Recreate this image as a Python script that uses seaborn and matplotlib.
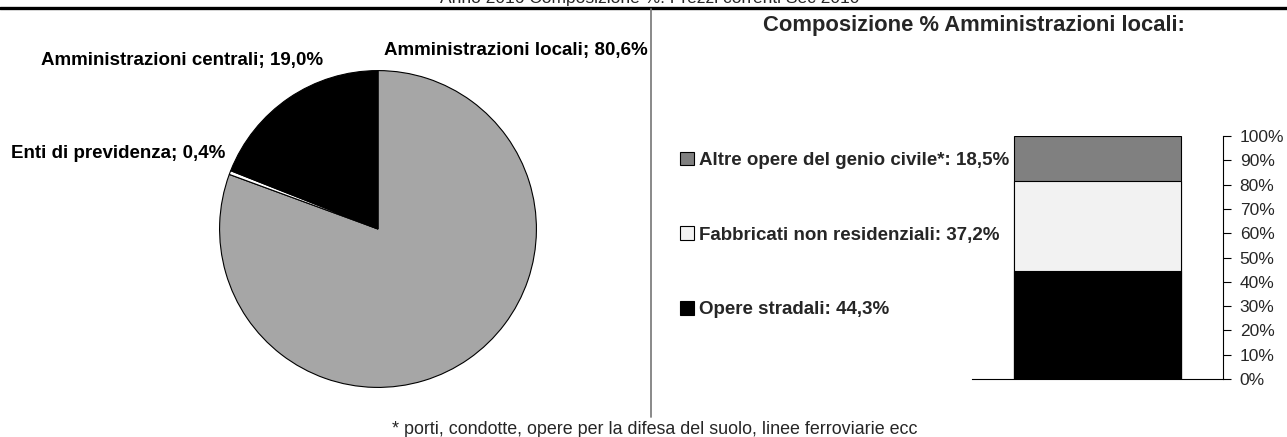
import numpy as np
import pandas as pd
import matplotlib
matplotlib.use("Agg")
import matplotlib.pyplot as plt
import seaborn as sns
from matplotlib.patches import Patch
from matplotlib.lines import Line2D

sns.set_style("white")
plt.rcParams['font.family'] = ['Liberation Sans Narrow', 'Liberation Sans', 'DejaVu Sans']

# --- data ---
pie_labels = ['Amministrazioni locali', 'Enti di previdenza', 'Amministrazioni centrali']
pie_values = [80.6, 0.4, 19.0]
pie_colors = ['#A6A6A6', '#FFFFFF', '#000000']

bar_labels = ['Opere stradali', 'Fabbricati non residenziali', 'Altre opere del genio civile*']
bar_values = [44.3, 37.2, 18.5]
bar_colors = ['#000000', '#F2F2F2', '#808080']

y_ticks = [0, 10, 20, 30, 40, 50, 60, 70, 80, 90, 100]
y_tick_labels = [f'{t}%' for t in y_ticks]

top_title = 'Anno 2016 Composizione %. Prezzi correnti Sec 2010'
right_title = 'Composizione % Amministrazioni locali:'
footnote = '* porti, condotte, opere per la difesa del suolo, linee ferroviarie ecc'


def pct(v):
    return f'{v:.1f}%'.replace('.', ',')


W, H = 1287, 437
fig = plt.figure(figsize=(W / 100, H / 100), dpi=100)
fig.patch.set_facecolor('white')


def fx(px):
    return px / W


def fy(py):
    return 1 - py / H


# --- pie ---
ax_pie = fig.add_axes([fx(218), fy(389), 320 / W, 320 / H])
ax_pie.pie(pie_values, colors=pie_colors, startangle=90, counterclock=False,
           wedgeprops=dict(edgecolor='black', linewidth=0.8))
ax_pie.set_aspect('equal')
ax_pie.set_xlim(-1.01, 1.01)
ax_pie.set_ylim(-1.01, 1.01)
ax_pie.axis('off')

lab_font = dict(fontsize=13.5, fontweight='bold', color='black')
fig.text(fx(384), fy(50), f'{pie_labels[0]}; {pct(pie_values[0])}', ha='left', va='center', **lab_font)
fig.text(fx(323), fy(61), f'{pie_labels[2]}; {pct(pie_values[2])}', ha='right', va='center', **lab_font)
fig.text(fx(225), fy(153), f'{pie_labels[1]}; {pct(pie_values[1])}', ha='right', va='center', **lab_font)

# --- stacked bar ---
ax_bar = fig.add_axes([fx(972), fy(379), 251 / W, 243 / H])
df = pd.DataFrame({'cat': [''] * len(bar_values), 'val': bar_values, 'label': bar_labels})
df['top'] = df['val'].cumsum()
for i in reversed(range(len(df))):
    sns.barplot(x=[df['cat'][i]], y=[df['top'][i]], color=bar_colors[i], width=0.666,
                edgecolor='black', linewidth=0.8, saturation=1, ax=ax_bar)
ax_bar.set_xlim(-0.5, 0.5)
ax_bar.set_ylim(0, 100)
ax_bar.set_xticks([])
ax_bar.set_xlabel('')
ax_bar.set_ylabel('')
ax_bar.yaxis.tick_right()
ax_bar.set_yticks(y_ticks)
ax_bar.set_yticklabels(y_tick_labels, fontsize=12.5)
ax_bar.tick_params(axis='y', direction='out', length=6, width=0.8, color='black', pad=6, right=True)
for s in ['left', 'top']:
    ax_bar.spines[s].set_visible(False)
for s in ['right', 'bottom']:
    ax_bar.spines[s].set_color('black')
    ax_bar.spines[s].set_linewidth(0.8)
ax_bar.patch.set_alpha(0)

handles = [Patch(facecolor=bar_colors[i], edgecolor='black', linewidth=0.8) for i in reversed(range(len(df)))]
labels = [f'{bar_labels[i]}: {pct(bar_values[i])}' for i in reversed(range(len(df)))]
leg = fig.legend(handles, labels, loc='center left', bbox_to_anchor=(fx(671), fy(235)),
                 frameon=False, borderpad=0, handlelength=0.75, handleheight=0.75,
                 handletextpad=0.25, labelspacing=3.05,
                 prop=dict(size=13.5, weight='bold'))

# --- titles and frame lines ---
fig.text(fx(974), fy(25), right_title, ha='center', va='center', fontsize=15.8, fontweight='bold')
fig.text(fx(650), fy(-1), top_title, ha='center', va='center', fontsize=12.5)
fig.text(fx(655), fy(430), footnote, ha='center', va='center', fontsize=12.9)

fig.add_artist(Line2D([0, 1], [fy(8), fy(8)], color='black', linewidth=2.4, transform=fig.transFigure))
fig.add_artist(Line2D([fx(651), fx(651)], [fy(9), fy(417)], color='#808080', linewidth=1.3,
                      transform=fig.transFigure))

fig.savefig('out.png', dpi=100)
